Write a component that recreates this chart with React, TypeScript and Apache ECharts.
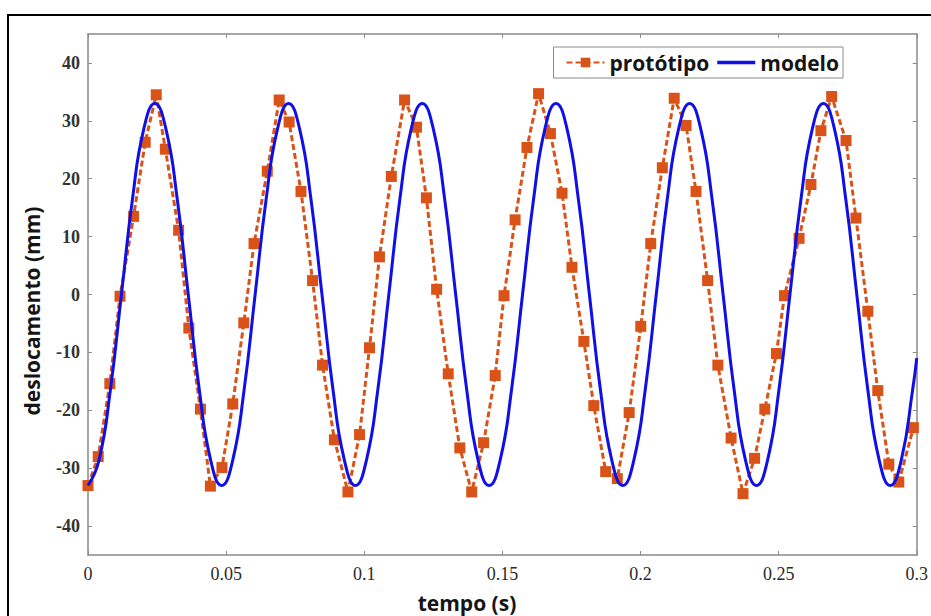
import React, { useEffect, useRef } from "react";
import * as echarts from "echarts";

// ---- data ----
const protoT = [
  0.0, 0.0037, 0.0079, 0.0116, 0.0165, 0.0207, 0.0247, 0.028, 0.0328, 0.0365, 0.0407, 0.0443,
  0.0485, 0.0524, 0.0564, 0.0601, 0.0649, 0.0692, 0.0728, 0.0771, 0.0813, 0.0849, 0.0892, 0.0941,
  0.0983, 0.1019, 0.1055, 0.1098, 0.1146, 0.1189, 0.1225, 0.1262, 0.1304, 0.1346, 0.1389,
  0.1432, 0.1474, 0.1506, 0.1546, 0.1589, 0.1631, 0.1674, 0.1716, 0.1752, 0.1795, 0.1831, 0.1874,
  0.1916, 0.1959, 0.2001, 0.2037, 0.2079, 0.2122, 0.2165, 0.2201, 0.2243, 0.228, 0.2328, 0.2371,
  0.2413, 0.245, 0.2492, 0.2521, 0.2574, 0.2617, 0.2653, 0.2692, 0.2744, 0.278, 0.2823, 0.2859,
  0.2899, 0.2935, 0.2988,
];
const protoV = [
  -33.0, -28.0, -15.4, -0.3, 13.5, 26.3, 34.5, 25.1, 11.1, -5.8, -19.8, -33.1,
  -29.9, -18.9, -4.9, 8.8, 21.3, 33.6, 29.8, 17.8, 2.4, -12.2, -25.1, -34.1,
  -24.2, -9.2, 6.5, 20.4, 33.6, 28.9, 16.7, 0.9, -13.7, -26.5, -34.1,
  -25.6, -14.0, -0.2, 12.9, 25.4, 34.7, 27.8, 17.5, 4.7, -8.1, -19.2, -30.6,
  -31.8, -20.4, -5.5, 8.8, 21.9, 33.9, 29.2, 17.8, 2.4, -12.2, -24.8, -34.4,
  -28.3, -19.8, -10.2, -0.2, 9.7, 19.0, 28.3, 34.2, 26.6, 13.2, -2.9, -16.6,
  -29.3, -32.4, -23.0,
];

const modelT = [
  0.0, 0.004, 0.0081, 0.0121, 0.0161, 0.0202, 0.0242, 0.0282, 0.0323, 0.0363, 0.0403, 0.0444,
  0.0484, 0.0524, 0.0565, 0.0605, 0.0645, 0.0686, 0.0726, 0.0766, 0.0807, 0.0847, 0.0887, 0.0928,
  0.0968, 0.1008, 0.1049, 0.1089, 0.1129, 0.117, 0.121, 0.125, 0.1291, 0.1331, 0.1371, 0.1412,
  0.1452, 0.1492, 0.1533, 0.1573, 0.1613, 0.1654, 0.1694, 0.1734, 0.1775, 0.1815, 0.1855, 0.1896,
  0.1936, 0.1976, 0.2017, 0.2057, 0.2097, 0.2138, 0.2178, 0.2218, 0.2259, 0.2299, 0.2339, 0.238,
  0.242, 0.246, 0.2501, 0.2541, 0.2581, 0.2622, 0.2662, 0.2702, 0.2743, 0.2783, 0.2823, 0.2864,
  0.2904, 0.2944, 0.2985, 0.3,
];
const modelV = [
  -33, -28.6, -16.5, 0, 16.5, 28.6, 33, 28.6, 16.5, 0, -16.5, -28.6,
  -33, -28.6, -16.5, 0, 16.5, 28.6, 33, 28.6, 16.5, 0, -16.5, -28.6,
  -33, -28.6, -16.5, 0, 16.5, 28.6, 33, 28.6, 16.5, 0, -16.5, -28.6,
  -33, -28.6, -16.5, 0, 16.5, 28.6, 33, 28.6, 16.5, 0, -16.5, -28.6,
  -33, -28.6, -16.5, 0, 16.5, 28.6, 33, 28.6, 16.5, 0, -16.5, -28.6,
  -33, -28.6, -16.5, 0, 16.5, 28.6, 33, 28.6, 16.5, 0, -16.5, -28.6,
  -33, -28.6, -16.5, -11,
];

const yTicks = [-40, -30, -20, -10, 0, 10, 20, 30, 40];
const xTicks = [0, 0.05, 0.1, 0.15, 0.2, 0.25, 0.3];

const seriesNames = ["protótipo", "modelo"];
const xTitle = "tempo (s)";
const yTitle = "deslocamento (mm)";

const ORANGE = "#d95319";
const BLUE = "#0f0fe6";
const AXIS_GRAY = "#8a8a8a";

export default function App() {
  const ref = useRef<HTMLDivElement>(null);

  useEffect(() => {
    if (!ref.current) return;
    const chart = echarts.init(ref.current, undefined, { renderer: "svg" });
    const protoData = protoT.map((t, i) => [t, protoV[i]]);
    const modelData = modelT.map((t, i) => [t, modelV[i]]);

    const axisCommon = {
      axisLine: { show: true, onZero: false, lineStyle: { color: AXIS_GRAY, width: 1.5 } },
      axisTick: { show: true, inside: true, length: 4, lineStyle: { color: AXIS_GRAY, width: 1 } },
      splitLine: { show: false },
    };

    chart.setOption({
      animation: false,
      backgroundColor: "#ffffff",
      grid: { left: 88, right: 8, top: 34, bottom: 61, containLabel: false },
      xAxis: [
        {
          type: "value",
          min: 0,
          max: 0.3,
          interval: 0.05,
          position: "bottom",
          ...axisCommon,
          axisLabel: {
            margin: 10,
            fontFamily: "Liberation Serif",
            fontSize: 18,
            color: "#2a2a2a",
            customValues: xTicks,
          },
        },
        {
          type: "value",
          min: 0,
          max: 0.3,
          interval: 0.05,
          position: "top",
          ...axisCommon,
          axisLabel: { show: false },
        },
      ],
      yAxis: [
        {
          type: "value",
          min: -45,
          max: 45,
          position: "left",
          ...axisCommon,
          axisTick: { ...axisCommon.axisTick, customValues: yTicks },
          axisLabel: {
            margin: 8,
            fontFamily: "Liberation Serif",
            fontWeight: "bold",
            fontSize: 18,
            color: "#333",
            customValues: yTicks,
          },
        },
        {
          type: "value",
          min: -45,
          max: 45,
          position: "right",
          ...axisCommon,
          axisTick: { ...axisCommon.axisTick, customValues: yTicks },
          axisLabel: { show: false },
        },
      ],
      legend: {
        data: [
          { name: seriesNames[0] },
          { name: seriesNames[1], icon: "path://M0,0H36V3.2H0Z" },
        ],
        right: 88,
        top: 47,
        orient: "horizontal",
        backgroundColor: "#ffffff",
        borderColor: "#8a8a8a",
        borderWidth: 1,
        borderRadius: 0,
        padding: [5, 4, 5, 12],
        itemWidth: 38,
        itemHeight: 12,
        itemGap: 8,
        textStyle: {
          fontFamily: "Open Sans",
          fontWeight: "bold",
          fontSize: 21,
          color: "#151515",
        },
      },
      series: [
        {
          name: seriesNames[0],
          type: "line",
          data: protoData,
          symbol: "rect",
          symbolSize: 11,
          itemStyle: { color: ORANGE },
          lineStyle: { color: ORANGE, width: 3, type: [6, 3] },
          clip: true,
          z: 2,
        },
        {
          name: seriesNames[1],
          type: "line",
          data: modelData,
          smooth: true,
          showSymbol: false,
          symbol: "none",
          itemStyle: { color: BLUE },
          lineStyle: { color: BLUE, width: 3 },
          clip: true,
          z: 3,
        },
      ],
      graphic: [
        {
          type: "rect",
          silent: true,
          shape: { x: 8, y: 15, width: 1000, height: 1000 },
          style: { fill: "none", stroke: "#000", lineWidth: 2 },
          z: 100,
        },
        {
          type: "text",
          x: 467,
          y: 603,
          style: {
            text: xTitle,
            align: "center",
            verticalAlign: "middle",
            fontFamily: "Open Sans",
            fontWeight: "bold",
            fontSize: 21,
            fill: "#151515",
          },
        },
        {
          type: "text",
          x: 32,
          y: 311,
          rotation: Math.PI / 2,
          style: {
            text: yTitle,
            align: "center",
            verticalAlign: "middle",
            fontFamily: "Open Sans",
            fontWeight: "bold",
            fontSize: 21,
            fill: "#151515",
          },
        },
      ],
    });
    return () => chart.dispose();
  }, []);

  return (
    <div
      ref={ref}
      style={{ position: "fixed", left: 0, top: 0, width: 931, height: 616, background: "#fff" }}
    />
  );
}
